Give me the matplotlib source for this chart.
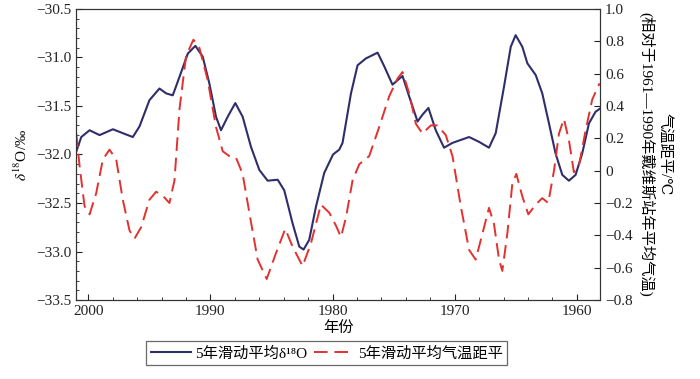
import matplotlib
matplotlib.use('Agg')
import matplotlib.pyplot as plt
from matplotlib.ticker import MultipleLocator

plt.rcParams['font.family'] = ['Liberation Serif', 'DejaVu Serif', 'Noto Sans CJK SC']
plt.rcParams['mathtext.fontset'] = 'stix'
plt.rcParams['font.size'] = 11

# 5年滑动平均 δ18O
years_o = [2000.98, 2000.57, 1999.89, 1999.07, 1997.98, 1997.17, 1996.35, 1995.80, 1994.99, 1994.17,
           1993.62, 1993.08, 1992.53, 1991.85, 1991.23, 1990.63, 1990.08, 1989.54, 1989.13, 1988.58,
           1987.96, 1987.36, 1986.68, 1985.99, 1985.31, 1984.49, 1983.95, 1983.27, 1982.72, 1982.37,
           1981.91, 1981.36, 1980.68, 1979.96, 1979.45, 1979.18, 1978.49, 1977.95, 1977.27, 1976.31,
           1975.77, 1975.09, 1974.27, 1973.73, 1973.04, 1972.64, 1972.15, 1971.55, 1970.87, 1970.18,
           1968.82, 1968.00, 1967.19, 1966.64, 1965.96, 1965.41, 1965.01, 1964.46, 1964.05, 1963.37,
           1962.83, 1962.28, 1961.74, 1961.19, 1960.65, 1960.10, 1959.56, 1959.01, 1958.47, 1958.14]
d18o = [-31.97, -31.82, -31.75, -31.80, -31.74, -31.78, -31.82, -31.71, -31.44, -31.32,
        -31.37, -31.39, -31.20, -30.96, -30.88, -30.99, -31.27, -31.61, -31.75, -31.61,
        -31.47, -31.61, -31.92, -32.16, -32.27, -32.26, -32.37, -32.71, -32.95, -32.98,
        -32.88, -32.54, -32.19, -32.00, -31.95, -31.88, -31.37, -31.08, -31.01, -30.95,
        -31.09, -31.28, -31.19, -31.40, -31.66, -31.59, -31.52, -31.75, -31.93, -31.88,
        -31.82, -31.87, -31.93, -31.78, -31.30, -30.89, -30.77, -30.89, -31.06, -31.18,
        -31.37, -31.68, -31.99, -32.21, -32.27, -32.21, -31.99, -31.68, -31.56, -31.53]

# 5年滑动平均气温距平
years_t = [2000.98, 2000.71, 2000.30, 1999.89, 1999.35, 1998.80, 1998.26, 1997.71, 1997.17, 1996.62,
           1996.21, 1995.67, 1994.99, 1994.44, 1993.84, 1993.35, 1992.94, 1992.53, 1991.99, 1991.39,
           1990.90, 1990.22, 1989.54, 1988.99, 1988.45, 1987.90, 1987.36, 1986.81, 1986.13, 1985.39,
           1984.63, 1983.87, 1983.27, 1982.45, 1981.77, 1980.95, 1980.27, 1979.72, 1979.31, 1978.90,
           1978.36, 1977.81, 1977.00, 1976.18, 1975.36, 1974.68, 1974.27, 1973.73, 1973.18, 1972.64,
           1971.95, 1971.41, 1970.73, 1970.18, 1969.50, 1968.82, 1968.28, 1967.73, 1967.19, 1966.78,
           1966.37, 1966.10, 1965.69, 1965.28, 1964.95, 1964.46, 1963.97, 1963.37, 1962.83, 1962.34,
           1961.87, 1961.46, 1961.06, 1960.65, 1960.24, 1959.83, 1959.28, 1958.74, 1958.14]
temp = [0.23, 0.03, -0.22, -0.27, -0.14, 0.07, 0.13, 0.07, -0.18, -0.37,
        -0.42, -0.35, -0.18, -0.13, -0.16, -0.20, -0.06, 0.38, 0.71, 0.81,
        0.76, 0.56, 0.27, 0.12, 0.09, 0.08, -0.02, -0.26, -0.55, -0.67,
        -0.51, -0.36, -0.47, -0.59, -0.45, -0.21, -0.26, -0.34, -0.41, -0.29,
        -0.06, 0.04, 0.09, 0.27, 0.46, 0.57, 0.61, 0.48, 0.29, 0.23,
        0.28, 0.28, 0.22, 0.09, -0.22, -0.49, -0.55, -0.39, -0.23, -0.33,
        -0.55, -0.62, -0.39, -0.08, -0.02, -0.16, -0.27, -0.21, -0.17, -0.20,
        0.00, 0.23, 0.32, 0.19, -0.01, 0.03, 0.25, 0.44, 0.54]

fig = plt.figure(figsize=(7, 3.79), dpi=100)
ax1 = fig.add_axes([0.1086, 0.2084, 0.7486, 0.7679])
ax2 = ax1.twinx()

l1, = ax1.plot(years_o, d18o, color='#2f2e6a', lw=1.5, label='5年滑动平均δ¹⁸O')
l2, = ax2.plot(years_t, temp, color='#e2312f', lw=1.4, dashes=(7, 3.5), label='5年滑动平均气温距平')

ax1.set_xlim(2001.0, 1958.1)
ax1.set_ylim(-33.5, -30.5)
ax2.set_ylim(-0.8, 1.0)

ax1.xaxis.set_major_locator(MultipleLocator(10))
ax1.xaxis.set_minor_locator(MultipleLocator(2))
ax1.yaxis.set_major_locator(MultipleLocator(0.5))
ax1.yaxis.set_minor_locator(MultipleLocator(0.1))
ax2.yaxis.set_major_locator(MultipleLocator(0.2))

ax1.yaxis.set_major_formatter(plt.FuncFormatter(lambda v, p: f'{v:.1f}'.replace('-', '\u2212')))
ax2.yaxis.set_major_formatter(plt.FuncFormatter(
    lambda v, p: '0' if abs(v) < 1e-9 else f'{v:.1f}'.replace('-', '\u2212')))

for ax in (ax1, ax2):
    ax.tick_params(which='both', direction='in', colors='#222222')
    ax.tick_params(which='major', length=4)
    ax.tick_params(which='minor', length=2.5)
    for s in ax.spines.values():
        s.set_color('#333333')

ax1.set_xlabel('年份', labelpad=2)
ax1.set_ylabel(r'$\delta^{18}$O/‰', labelpad=4)
ax2.set_ylabel('气温距平/℃\n(相对于1961—1990年戴维斯站年平均气温)', rotation=-90,
               labelpad=28, linespacing=1.2)

leg = fig.legend(handles=[l1, l2], loc='center', bbox_to_anchor=(0.467, 0.068), ncol=2,
                 frameon=True, fancybox=False, edgecolor='#444444', handlelength=2.6,
                 handletextpad=0.3, columnspacing=0.4, borderpad=0.3, fontsize=11)
leg.get_frame().set_linewidth(0.9)

fig.savefig('out.png', dpi=100)
